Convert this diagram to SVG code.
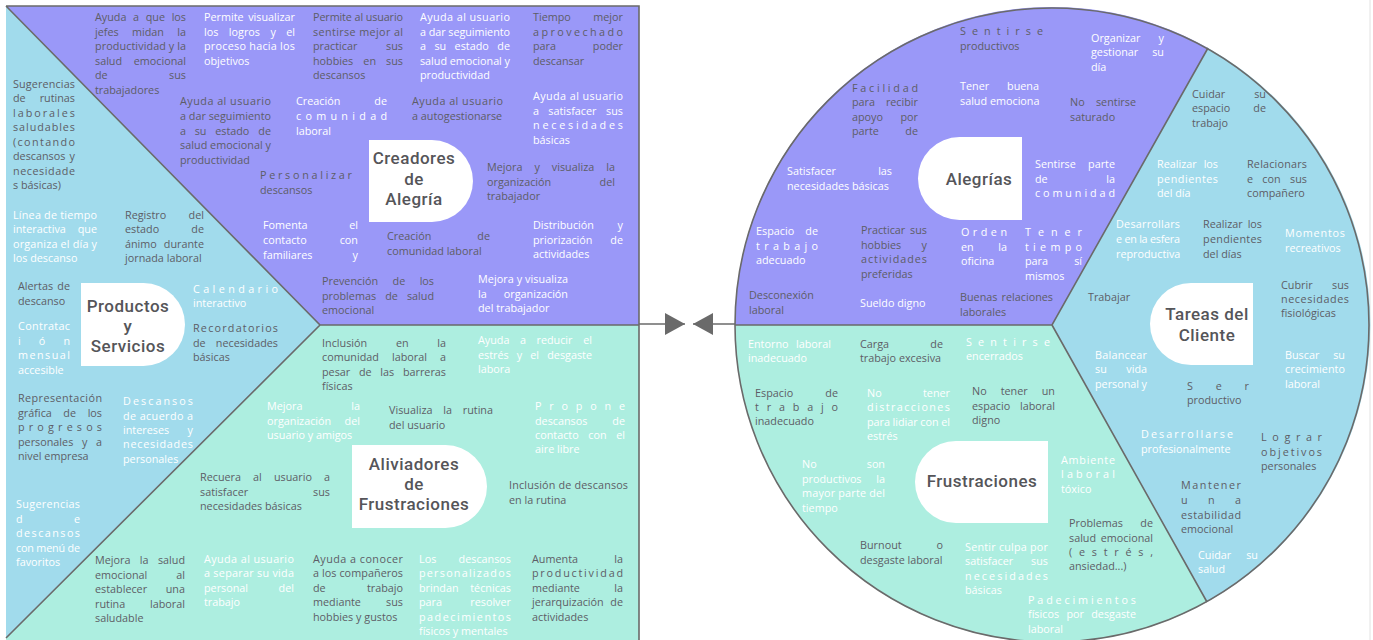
<svg xmlns="http://www.w3.org/2000/svg" width="1373" height="640" viewBox="0 0 1373 640">
<style>
.t{font-family:"Open Sans","Liberation Sans",sans-serif;font-size:10.8px}
.g{fill:#5d5d66}
.w{fill:#ffffff}
.e{text-anchor:end}
.m{text-anchor:middle}
.lbl{font-family:Roboto,"Liberation Sans",sans-serif;font-size:17px;font-weight:500;letter-spacing:0.5px;fill:#555559;text-anchor:middle}
.bd{fill:none;stroke:#6a6a6a;stroke-width:1.6}
.pu{fill:#9a98f8}.cy{fill:#a1dbec}.mi{fill:#adeee0}
.tag{fill:#ffffff}
.cn{stroke:#6a6a6a;stroke-width:1.6;fill:none}
</style>
<defs>
<marker id="ah" viewBox="0 0 20 22" refX="20" refY="11" markerWidth="20" markerHeight="22" markerUnits="userSpaceOnUse" orient="auto">
<path d="M0,0 L20,11 L0,22 Z" fill="#6a6a6a"/>
</marker>
</defs>
<rect width="1373" height="640" fill="#ffffff"/>
<line x1="1370" y1="0" x2="1370" y2="640" stroke="#e2e2e2" stroke-width="1"/>

<g id="canvas-propuesta">
<polygon class="pu" points="6,6 639,6 639,325 320,325"/>
<polygon class="cy" points="6,6 320,325 6,638"/>
<polygon class="mi" points="320,325 639,325 639,640 6,640 6,638"/>
<path class="bd" d="M6,6 H639 V640 M6,6 L320,325 L6,638 M320,325 H639"/>
</g>

<g id="canvas-cliente">
<path class="pu" d="M1052,325 L735,325 A317,317 0 0 1 1208,48 Z"/>
<path class="cy" d="M1052,325 L1208,48 A317,317 0 0 1 1207,602 Z"/>
<path class="mi" d="M1052,325 L1207,602 A317,317 0 0 1 735,325 Z"/>
<circle class="bd" cx="1052" cy="325" r="317"/>
<path class="bd" d="M735,325 H1052 L1208,48 M1052,325 L1207,602"/>
</g>

<g id="connectors">
<path class="cn" d="M639,324 H685" marker-end="url(#ah)"/>
<path class="cn" d="M735,324 H693" marker-end="url(#ah)"/>
</g>

<!-- Section labels -->
<g id="lbl-creadores"><path class="tag" d="M369,140 H432 A41,41 0 0 1 432,222 H369 Z"/>
<text class="lbl"><tspan x="414" y="164">Creadores</tspan><tspan x="414" y="185">de</tspan><tspan x="414" y="205">Alegría</tspan></text></g>
<g id="lbl-productos"><path class="tag" d="M81,283 H143.5 A41.5,41.5 0 0 1 143.5,366 H81 Z"/>
<text class="lbl"><tspan x="128" y="312">Productos</tspan><tspan x="128" y="332">y</tspan><tspan x="128" y="352">Servicios</tspan></text></g>
<g id="lbl-aliviadores"><path class="tag" d="M352,445 H445.5 A41.5,41.5 0 0 1 445.5,528 H352 Z"/>
<text class="lbl"><tspan x="414" y="470">Aliviadores</tspan><tspan x="414" y="490">de</tspan><tspan x="414" y="510">Frustraciones</tspan></text></g>
<g id="lbl-alegrias"><path class="tag" d="M1022,137 V220 H959.5 A41.5,41.5 0 0 1 959.5,137 Z"/>
<text class="lbl" x="979" y="185">Alegrías</text></g>
<g id="lbl-frustraciones"><path class="tag" d="M1048,441 V523 H956 A41,41 0 0 1 956,441 Z"/>
<text class="lbl" x="982" y="487">Frustraciones</text></g>
<g id="lbl-tareas"><path class="tag" d="M1253,283 V365 H1191 A41,41 0 0 1 1191,283 Z"/>
<text class="lbl"><tspan x="1207" y="320">Tareas del</tspan><tspan x="1207" y="341">Cliente</tspan></text></g>

<!-- Creadores de Alegría items -->
<g id="c1"><text class="t g"><tspan x="95" y="21">Ayuda</tspan><tspan x="133.1">a</tspan><tspan x="145.7">que</tspan><tspan class="e" x="186">los</tspan><tspan x="95" y="35.5">jefes</tspan><tspan class="m" x="148">midan</tspan><tspan class="e" x="186">la</tspan><tspan x="95" y="50" textLength="91">productividad y la</tspan><tspan x="95" y="64.5">salud</tspan><tspan class="e" x="186">emocional</tspan><tspan x="95" y="79">de</tspan><tspan class="e" x="186">sus</tspan><tspan x="95" y="93.5">trabajadores</tspan></text></g>
<g id="c2"><text class="t w"><tspan x="204" y="21">Permite</tspan><tspan class="e" x="295">visualizar</tspan><tspan x="204" y="35.5">los</tspan><tspan x="228.8">logros</tspan><tspan x="270.4">y</tspan><tspan class="e" x="295">el</tspan><tspan x="204" y="50" textLength="91">proceso hacia los</tspan><tspan x="204" y="64.5">objetivos</tspan></text></g>
<g id="c3"><text class="t g"><tspan x="313" y="21" textLength="90">Permite al usuario</tspan><tspan x="313" y="35.5" textLength="90">sentirse mejor al</tspan><tspan x="313" y="50">practicar</tspan><tspan class="e" x="403">sus</tspan><tspan x="313" y="64.5">hobbies</tspan><tspan class="m" x="369.7">en</tspan><tspan class="e" x="403">sus</tspan><tspan x="313" y="79">descansos</tspan></text></g>
<g id="c4"><text class="t w"><tspan x="420" y="21" textLength="90">Ayuda al usuario</tspan><tspan x="420" y="35.5" textLength="90">a dar seguimiento</tspan><tspan x="420" y="50">a</tspan><tspan x="434.4">su</tspan><tspan x="454.6">estado</tspan><tspan class="e" x="510">de</tspan><tspan x="420" y="64.5" textLength="90">salud emocional y</tspan><tspan x="420" y="79">productividad</tspan></text></g>
<g id="c5"><text class="t g"><tspan x="533" y="21">Tiempo</tspan><tspan class="e" x="623">mejor</tspan><tspan x="533" y="35.5" textLength="90">aprovechado</tspan><tspan x="533" y="50">para</tspan><tspan class="e" x="623">poder</tspan><tspan x="533" y="64.5">descansar</tspan></text></g>
<g id="c6"><text class="t g"><tspan x="180" y="105" textLength="91">Ayuda al usuario</tspan><tspan x="180" y="120" textLength="91">a dar seguimiento</tspan><tspan x="180" y="134.5">a</tspan><tspan x="194.7">su</tspan><tspan x="215.2">estado</tspan><tspan class="e" x="271">de</tspan><tspan x="180" y="149" textLength="91">salud emocional y</tspan><tspan x="180" y="164">productividad</tspan></text></g>
<g id="c7"><text class="t w"><tspan x="296" y="105">Creación</tspan><tspan class="e" x="387">de</tspan><tspan x="296" y="120" textLength="91">comunidad</tspan><tspan x="296" y="134.5">laboral</tspan></text></g>
<g id="c8"><text class="t g"><tspan x="412" y="105" textLength="91">Ayuda al usuario</tspan><tspan x="412" y="120">a autogestionarse</tspan></text></g>
<g id="c9"><text class="t w"><tspan x="533" y="100" textLength="90">Ayuda al usuario</tspan><tspan x="533" y="114.5">a</tspan><tspan x="548.3">satisfacer</tspan><tspan class="e" x="623">sus</tspan><tspan x="533" y="129" textLength="90">necesidades</tspan><tspan x="533" y="143.5">básicas</tspan></text></g>
<g id="c10"><text class="t g"><tspan x="260" y="179" textLength="92">Personalizar</tspan><tspan x="260" y="193.5">descansos</tspan></text></g>
<g id="c11"><text class="t g"><tspan x="487" y="171">Mejora</tspan><tspan x="534.5">y</tspan><tspan x="551.8">visualiza</tspan><tspan class="e" x="615">la</tspan><tspan x="487" y="185.5">organización</tspan><tspan class="e" x="615">del</tspan><tspan x="487" y="200">trabajador</tspan></text></g>
<g id="c12"><text class="t w"><tspan x="263" y="229">Fomenta</tspan><tspan class="e" x="358">el</tspan><tspan x="263" y="244">contacto</tspan><tspan class="e" x="358">con</tspan><tspan x="263" y="258.5">familiares</tspan><tspan class="e" x="358">y</tspan></text></g>
<g id="c13"><text class="t g"><tspan x="387" y="240">Creación</tspan><tspan class="e" x="490">de</tspan><tspan x="387" y="254.5">comunidad laboral</tspan></text></g>
<g id="c14"><text class="t w"><tspan x="533" y="228.5">Distribución</tspan><tspan class="e" x="623">y</tspan><tspan x="533" y="243.5">priorización</tspan><tspan class="e" x="623">de</tspan><tspan x="533" y="258">actividades</tspan></text></g>
<g id="c15"><text class="t g"><tspan x="322" y="285">Prevención</tspan><tspan class="m" x="398.9">de</tspan><tspan class="e" x="434">los</tspan><tspan x="322" y="299.5">problemas</tspan><tspan class="m" x="391.5">de</tspan><tspan class="e" x="434">salud</tspan><tspan x="322" y="314">emocional</tspan></text></g>
<g id="c16"><text class="t w"><tspan x="478" y="283" textLength="90">Mejora y visualiza</tspan><tspan x="478" y="297.5">la</tspan><tspan class="e" x="568">organización</tspan><tspan x="478" y="312">del trabajador</tspan></text></g>

<!-- Productos y Servicios items -->
<g id="p1"><text class="t g"><tspan x="13" y="87.5" textLength="62">Sugerencias</tspan><tspan x="13" y="102">de</tspan><tspan class="e" x="75">rutinas</tspan><tspan x="13" y="116.5" textLength="62">laborales</tspan><tspan x="13" y="131" textLength="62">saludables</tspan><tspan x="13" y="145.5" textLength="62">(contando</tspan><tspan x="13" y="160">descansos</tspan><tspan class="e" x="75">y</tspan><tspan x="13" y="174.5" textLength="62">necesidade</tspan><tspan x="13" y="189">s básicas)</tspan></text></g>
<g id="p2"><text class="t w"><tspan x="13" y="218.5" textLength="84">Línea de tiempo</tspan><tspan x="13" y="233">interactiva</tspan><tspan class="e" x="97">que</tspan><tspan x="13" y="247.5" textLength="84">organiza el día y</tspan><tspan x="13" y="262">los descanso</tspan></text></g>
<g id="p3"><text class="t g"><tspan x="125" y="218.5">Registro</tspan><tspan class="e" x="204">del</tspan><tspan x="125" y="233">estado</tspan><tspan class="e" x="204">de</tspan><tspan x="125" y="247.5">ánimo</tspan><tspan class="e" x="204">durante</tspan><tspan x="125" y="262">jornada laboral</tspan></text></g>
<g id="p4"><text class="t g"><tspan x="18" y="290">Alertas</tspan><tspan class="e" x="70">de</tspan><tspan x="18" y="304.5">descanso</tspan></text></g>
<g id="p5"><text class="t w"><tspan x="193" y="292.5" textLength="85">Calendario</tspan><tspan x="193" y="307">interactivo</tspan></text></g>
<g id="p6"><text class="t w"><tspan x="18" y="330" textLength="52">Contratac</tspan><tspan x="18" y="345" textLength="52">ión</tspan><tspan x="18" y="359" textLength="52">mensual</tspan><tspan x="18" y="373.5">accesible</tspan></text></g>
<g id="p7"><text class="t g"><tspan x="193" y="331.5" textLength="85">Recordatorios</tspan><tspan x="193" y="346.5">de</tspan><tspan class="e" x="278">necesidades</tspan><tspan x="193" y="361">básicas</tspan></text></g>
<g id="p8"><text class="t g"><tspan x="18" y="401.5" textLength="84">Representación</tspan><tspan x="18" y="416.5">gráfica</tspan><tspan class="m" x="69.7">de</tspan><tspan class="e" x="102">los</tspan><tspan x="18" y="431" textLength="84">progresos</tspan><tspan x="18" y="445.5">personales</tspan><tspan x="82">y</tspan><tspan class="e" x="102">a</tspan><tspan x="18" y="460">nivel empresa</tspan></text></g>
<g id="p9"><text class="t w"><tspan x="123" y="405" textLength="70">Descansos</tspan><tspan x="123" y="419.5" textLength="70">de acuerdo a</tspan><tspan x="123" y="433.5">intereses</tspan><tspan class="e" x="193">y</tspan><tspan x="123" y="448" textLength="70">necesidades</tspan><tspan x="123" y="462.5">personales</tspan></text></g>
<g id="p10"><text class="t w"><tspan x="16" y="508" textLength="64">Sugerencias</tspan><tspan x="16" y="522.5">d</tspan><tspan class="e" x="80">e</tspan><tspan x="16" y="537" textLength="64">descansos</tspan><tspan x="16" y="551.5" textLength="64">con menú de</tspan><tspan x="16" y="566">favoritos</tspan></text></g>

<!-- Aliviadores de Frustraciones items -->
<g id="a1"><text class="t g"><tspan x="322" y="347">Inclusión</tspan><tspan class="m" x="402.3">en</tspan><tspan class="e" x="446">la</tspan><tspan x="322" y="361">comunidad</tspan><tspan x="392">laboral</tspan><tspan class="e" x="446">a</tspan><tspan x="322" y="375.5">pesar</tspan><tspan x="358.9">de</tspan><tspan x="380.2">las</tspan><tspan class="e" x="446">barreras</tspan><tspan x="322" y="390">físicas</tspan></text></g>
<g id="a2"><text class="t w"><tspan x="478" y="344">Ayuda</tspan><tspan x="520">a</tspan><tspan x="536.5">reducir</tspan><tspan class="e" x="592">el</tspan><tspan x="478" y="358.5">estrés</tspan><tspan x="516.8">y</tspan><tspan x="530.2">el</tspan><tspan class="e" x="592">desgaste</tspan><tspan x="478" y="373">labora</tspan></text></g>
<g id="a3"><text class="t w"><tspan x="267" y="410">Mejora</tspan><tspan class="e" x="360">la</tspan><tspan x="267" y="425">organización</tspan><tspan class="e" x="360">del</tspan><tspan x="267" y="439">usuario y amigos</tspan></text></g>
<g id="a4"><text class="t g"><tspan x="389" y="414">Visualiza</tspan><tspan class="m" x="447.7">la</tspan><tspan class="e" x="493">rutina</tspan><tspan x="389" y="429">del usuario</tspan></text></g>
<g id="a5"><text class="t w"><tspan x="535" y="410" textLength="90">Propone</tspan><tspan x="535" y="424.5">descansos</tspan><tspan class="e" x="625">de</tspan><tspan x="535" y="439">contacto</tspan><tspan class="m" x="597.5">con</tspan><tspan class="e" x="625">el</tspan><tspan x="535" y="453">aire libre</tspan></text></g>
<g id="a6"><text class="t g"><tspan x="200" y="481">Recuera</tspan><tspan x="253.1">al</tspan><tspan x="273.9">usuario</tspan><tspan class="e" x="330">a</tspan><tspan x="200" y="495.5">satisfacer</tspan><tspan class="e" x="330">sus</tspan><tspan x="200" y="510">necesidades básicas</tspan></text></g>
<g id="a7"><text class="t g"><tspan x="509" y="489" textLength="119">Inclusión de descansos</tspan><tspan x="509" y="503.5">en la rutina</tspan></text></g>
<g id="a8"><text class="t g"><tspan x="95" y="564">Mejora</tspan><tspan class="m" x="144.2">la</tspan><tspan class="e" x="185">salud</tspan><tspan x="95" y="578.5">emocional</tspan><tspan class="e" x="185">al</tspan><tspan x="95" y="593">establecer</tspan><tspan class="e" x="185">una</tspan><tspan x="95" y="607.5">rutina</tspan><tspan class="e" x="185">laboral</tspan><tspan x="95" y="622">saludable</tspan></text></g>
<g id="a9"><text class="t w"><tspan x="204" y="562.5" textLength="90">Ayuda al usuario</tspan><tspan x="204" y="577" textLength="90">a separar su vida</tspan><tspan x="204" y="591.5">personal</tspan><tspan class="e" x="294">del</tspan><tspan x="204" y="606">trabajo</tspan></text></g>
<g id="a10"><text class="t g"><tspan x="313" y="562.5" textLength="90">Ayuda a conocer</tspan><tspan x="313" y="577" textLength="90">a los compañeros</tspan><tspan x="313" y="591.5">de</tspan><tspan class="e" x="403">trabajo</tspan><tspan x="313" y="606">mediante</tspan><tspan class="e" x="403">sus</tspan><tspan x="313" y="620.5">hobbies y gustos</tspan></text></g>
<g id="a11"><text class="t w"><tspan x="419" y="562.5">Los</tspan><tspan class="e" x="511">descansos</tspan><tspan x="419" y="577" textLength="92">personalizados</tspan><tspan x="419" y="591.5">brindan</tspan><tspan class="e" x="511">técnicas</tspan><tspan x="419" y="606">para</tspan><tspan class="e" x="511">resolver</tspan><tspan x="419" y="620.5" textLength="92">padecimientos</tspan><tspan x="419" y="635">físicos y mentales</tspan></text></g>
<g id="a12"><text class="t g"><tspan x="532" y="562.5">Aumenta</tspan><tspan class="e" x="623">la</tspan><tspan x="532" y="577" textLength="91">productividad</tspan><tspan x="532" y="591.5">mediante</tspan><tspan class="e" x="623">la</tspan><tspan x="532" y="606">jerarquización</tspan><tspan class="e" x="623">de</tspan><tspan x="532" y="620.5">actividades</tspan></text></g>

<!-- Alegrías items -->
<g id="j1"><text class="t g"><tspan x="960" y="35" textLength="83">Sentirse</tspan><tspan x="960" y="49.5">productivos</tspan></text></g>
<g id="j2"><text class="t g"><tspan x="852" y="91.5" textLength="66">Facilidad</tspan><tspan x="852" y="106">para</tspan><tspan class="e" x="918">recibir</tspan><tspan x="852" y="120.5">apoyo</tspan><tspan class="e" x="918">por</tspan><tspan x="852" y="134.5">parte</tspan><tspan class="e" x="918">de</tspan></text></g>
<g id="j3"><text class="t w"><tspan x="960" y="90">Tener</tspan><tspan class="e" x="1039">buena</tspan><tspan x="960" y="105">salud emociona</tspan></text></g>
<g id="j4"><text class="t w"><tspan x="787" y="175">Satisfacer</tspan><tspan class="e" x="892">las</tspan><tspan x="787" y="189.5">necesidades básicas</tspan></text></g>
<g id="j5"><text class="t w"><tspan x="1035" y="168">Sentirse</tspan><tspan class="e" x="1115">parte</tspan><tspan x="1035" y="182.5">de</tspan><tspan class="e" x="1115">la</tspan><tspan x="1035" y="197" textLength="80">comunidad</tspan></text></g>
<g id="j6"><text class="t w"><tspan x="1091" y="41.5">Organizar</tspan><tspan class="e" x="1164">y</tspan><tspan x="1091" y="56">gestionar</tspan><tspan class="e" x="1164">su</tspan><tspan x="1091" y="70.5">día</tspan></text></g>
<g id="j7"><text class="t g"><tspan x="1070" y="106">No</tspan><tspan class="e" x="1136">sentirse</tspan><tspan x="1070" y="120.5">saturado</tspan></text></g>
<g id="j8"><text class="t w"><tspan x="756" y="235">Espacio</tspan><tspan class="e" x="818">de</tspan><tspan x="756" y="250" textLength="62">trabajo</tspan><tspan x="756" y="264">adecuado</tspan></text></g>
<g id="j9"><text class="t g"><tspan x="861" y="234">Practicar</tspan><tspan class="e" x="927">sus</tspan><tspan x="861" y="248.5">hobbies</tspan><tspan class="e" x="927">y</tspan><tspan x="861" y="263" textLength="66">actividades</tspan><tspan x="861" y="277.5">preferidas</tspan></text></g>
<g id="j10"><text class="t w"><tspan x="961" y="236" textLength="46">Orden</tspan><tspan x="961" y="251">en</tspan><tspan class="e" x="1007">la</tspan><tspan x="961" y="265">oficina</tspan></text></g>
<g id="j11"><text class="t w"><tspan x="1025" y="236" textLength="57">Tener</tspan><tspan x="1025" y="251" textLength="57">tiempo</tspan><tspan x="1025" y="265">para</tspan><tspan class="e" x="1082">sí</tspan><tspan x="1025" y="279.5">mismos</tspan></text></g>
<g id="j12"><text class="t g"><tspan x="749" y="299">Desconexión</tspan><tspan x="749" y="314">laboral</tspan></text></g>
<g id="j13"><text class="t w" x="860" y="307">Sueldo digno</text></g>
<g id="j14"><text class="t g"><tspan x="960" y="301">Buenas</tspan><tspan class="e" x="1053">relaciones</tspan><tspan x="960" y="316">laborales</tspan></text></g>

<!-- Tareas del Cliente items -->
<g id="k1"><text class="t g"><tspan x="1192" y="97.5">Cuidar</tspan><tspan class="e" x="1266">su</tspan><tspan x="1192" y="112">espacio</tspan><tspan class="e" x="1266">de</tspan><tspan x="1192" y="126.5">trabajo</tspan></text></g>
<g id="k2"><text class="t w"><tspan x="1157" y="168">Realizar</tspan><tspan class="e" x="1218">los</tspan><tspan x="1157" y="182.5" textLength="61">pendientes</tspan><tspan x="1157" y="197">del día</tspan></text></g>
<g id="k3"><text class="t g"><tspan x="1247" y="168" textLength="60">Relacionars</tspan><tspan x="1247" y="182.5">e</tspan><tspan class="m" x="1271.5">con</tspan><tspan class="e" x="1307">sus</tspan><tspan x="1247" y="197">compañero</tspan></text></g>
<g id="k4"><text class="t w"><tspan x="1116" y="228" textLength="64">Desarrollars</tspan><tspan x="1116" y="243" textLength="64">e en la esfera</tspan><tspan x="1116" y="257.5">reproductiva</tspan></text></g>
<g id="k5"><text class="t g"><tspan x="1203" y="228">Realizar</tspan><tspan class="e" x="1262">los</tspan><tspan x="1203" y="243" textLength="59">pendientes</tspan><tspan x="1203" y="257.5">del días</tspan></text></g>
<g id="k6"><text class="t w"><tspan x="1285" y="237" textLength="60">Momentos</tspan><tspan x="1285" y="251.5">recreativos</tspan></text></g>
<g id="k7"><text class="t g" x="1088" y="301">Trabajar</text></g>
<g id="k8"><text class="t g"><tspan x="1281" y="288.5">Cubrir</tspan><tspan class="e" x="1349">sus</tspan><tspan x="1281" y="302.5" textLength="68">necesidades</tspan><tspan x="1281" y="317">fisiológicas</tspan></text></g>
<g id="k9"><text class="t w"><tspan x="1095" y="358.5" textLength="52">Balancear</tspan><tspan x="1095" y="373">su</tspan><tspan class="e" x="1147">vida</tspan><tspan x="1095" y="387.5">personal</tspan><tspan class="e" x="1147">y</tspan></text></g>
<g id="k10"><text class="t w"><tspan x="1285" y="358.5">Buscar</tspan><tspan class="e" x="1345">su</tspan><tspan x="1285" y="373" textLength="60">crecimiento</tspan><tspan x="1285" y="387.5">laboral</tspan></text></g>
<g id="k11"><text class="t g"><tspan x="1187" y="389.5" textLength="62">Ser</tspan><tspan x="1187" y="404">productivo</tspan></text></g>
<g id="k12"><text class="t w"><tspan x="1141" y="438" textLength="92">Desarrollarse</tspan><tspan x="1141" y="453">profesionalmente</tspan></text></g>
<g id="k13"><text class="t g"><tspan x="1261" y="441" textLength="61">Lograr</tspan><tspan x="1261" y="455.5" textLength="61">objetivos</tspan><tspan x="1261" y="470">personales</tspan></text></g>
<g id="k14"><text class="t g"><tspan x="1181" y="489" textLength="60">Mantener</tspan><tspan x="1181" y="504" textLength="60">una</tspan><tspan x="1181" y="518.5" textLength="60">estabilidad</tspan><tspan x="1181" y="533">emocional</tspan></text></g>
<g id="k15"><text class="t w"><tspan x="1198" y="558.5">Cuidar</tspan><tspan class="e" x="1258">su</tspan><tspan x="1198" y="573">salud</tspan></text></g>

<!-- Frustraciones items -->
<g id="f1"><text class="t w"><tspan x="748" y="347.5">Entorno</tspan><tspan class="e" x="831">laboral</tspan><tspan x="748" y="362">inadecuado</tspan></text></g>
<g id="f2"><text class="t g"><tspan x="860" y="347.5">Carga</tspan><tspan class="e" x="943">de</tspan><tspan x="860" y="362">trabajo excesiva</tspan></text></g>
<g id="f3"><text class="t w"><tspan x="966" y="346" textLength="84">Sentirse</tspan><tspan x="966" y="360">encerrados</tspan></text></g>
<g id="f4"><text class="t g"><tspan x="755" y="396.5">Espacio</tspan><tspan class="e" x="838">de</tspan><tspan x="755" y="411" textLength="83">trabajo</tspan><tspan x="755" y="425">inadecuado</tspan></text></g>
<g id="f5"><text class="t w"><tspan x="867" y="396.5">No</tspan><tspan class="e" x="950">tener</tspan><tspan x="867" y="411" textLength="83">distracciones</tspan><tspan x="867" y="425.5" textLength="83">para lidiar con el</tspan><tspan x="867" y="440">estrés</tspan></text></g>
<g id="f6"><text class="t g"><tspan x="972" y="395">No</tspan><tspan class="m" x="1014.2">tener</tspan><tspan class="e" x="1055">un</tspan><tspan x="972" y="409.5">espacio</tspan><tspan class="e" x="1055">laboral</tspan><tspan x="972" y="424">digno</tspan></text></g>
<g id="f7"><text class="t w"><tspan x="802" y="468">No</tspan><tspan class="e" x="885">son</tspan><tspan x="802" y="482.5">productivos</tspan><tspan class="e" x="885">la</tspan><tspan x="802" y="497" textLength="83">mayor parte del</tspan><tspan x="802" y="511.5">tiempo</tspan></text></g>
<g id="f8"><text class="t w"><tspan x="1061" y="463.5" textLength="54">Ambiente</tspan><tspan x="1061" y="478" textLength="54">laboral</tspan><tspan x="1061" y="492.5">tóxico</tspan></text></g>
<g id="f9"><text class="t g"><tspan x="1069" y="527">Problemas</tspan><tspan class="e" x="1153">de</tspan><tspan x="1069" y="541.5">salud</tspan><tspan class="e" x="1153">emocional</tspan><tspan x="1069" y="556" textLength="84">(estrés,</tspan><tspan x="1069" y="570">ansiedad...)</tspan></text></g>
<g id="f10"><text class="t g"><tspan x="860" y="549">Burnout</tspan><tspan class="e" x="943">o</tspan><tspan x="860" y="563.5">desgaste laboral</tspan></text></g>
<g id="f11"><text class="t w"><tspan x="965" y="551" textLength="83">Sentir culpa por</tspan><tspan x="965" y="565">satisfacer</tspan><tspan class="e" x="1048">sus</tspan><tspan x="965" y="580" textLength="83">necesidades</tspan><tspan x="965" y="594">básicas</tspan></text></g>
<g id="f12"><text class="t w"><tspan x="1028" y="603.5" textLength="108">Padecimientos</tspan><tspan x="1028" y="618">físicos</tspan><tspan class="m" x="1075.2">por</tspan><tspan class="e" x="1136">desgaste</tspan><tspan x="1028" y="632.5">laboral</tspan></text></g>
</svg>
